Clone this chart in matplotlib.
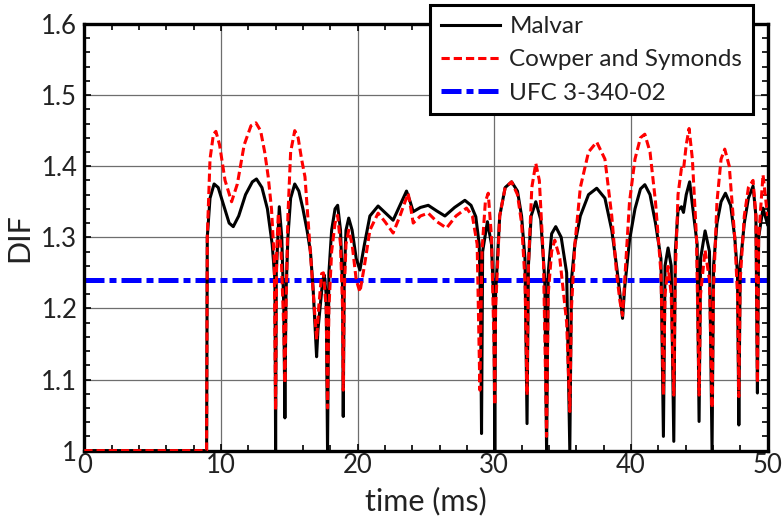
import matplotlib
matplotlib.use("Agg")
import matplotlib.pyplot as plt
from matplotlib.ticker import MultipleLocator

plt.rcParams['font.family'] = ['Lato', 'DejaVu Sans']

# Dynamic increase factor histories (time in ms)
malvar_t = [0, 8.95, 9.0, 9.2, 9.5, 9.8, 10.2, 10.6, 10.9, 11.3, 11.8, 12.3, 12.6, 13.0, 13.4,
            13.75, 13.95, 14.0, 14.05, 14.27, 14.45, 14.6, 14.68, 14.76, 14.9, 15.1, 15.4,
            15.7, 16.0, 16.3, 16.55, 16.75, 16.9, 17.0, 17.1, 17.25, 17.45, 17.56, 17.7,
            17.8, 17.9, 18.1, 18.35, 18.54, 18.75, 18.9, 18.95, 19.02, 19.15, 19.35, 19.6,
            19.9, 20.17, 20.5, 20.9, 21.5, 22.0, 22.6, 23.1, 23.58, 23.85, 24.07, 24.6,
            25.17, 25.8, 26.39, 27.1, 27.85, 28.3, 28.65, 28.9, 29.0, 29.07, 29.15, 29.5,
            29.8, 29.98, 30.04, 30.1, 30.4, 30.8, 31.27, 31.7, 32.0, 32.25, 32.4, 32.5,
            32.7, 33.04, 33.4, 33.7, 33.83, 33.95, 34.2, 34.5, 34.9, 35.3, 35.53, 35.65,
            35.9, 36.3, 36.9, 37.5, 38.1, 38.6, 38.95, 39.2, 39.39, 39.55, 39.9, 40.3,
            40.7, 41.02, 41.4, 41.8, 42.2, 42.38, 42.5, 42.72, 42.95, 43.14, 43.25, 43.45,
            43.7, 43.85, 44.05, 44.3, 44.6, 44.85, 44.99, 45.1, 45.43, 45.75, 45.94, 46.05,
            46.3, 46.6, 46.92, 47.3, 47.6, 47.8, 47.9, 48.0, 48.3, 48.6, 48.94, 49.15,
            49.26, 49.35, 49.67, 50.0]
malvar_dif = [1.0, 1.0, 1.30, 1.355, 1.375, 1.37, 1.345, 1.32, 1.315, 1.33, 1.36, 1.378, 1.382,
              1.37, 1.34, 1.29, 1.24, 1.0, 1.25, 1.343, 1.30, 1.20, 1.046, 1.22, 1.30, 1.355,
              1.375, 1.365, 1.34, 1.31, 1.28, 1.226, 1.17, 1.132, 1.17, 1.20, 1.24, 1.247,
              1.22, 1.0, 1.25, 1.31, 1.34, 1.345, 1.31, 1.23, 1.048, 1.24, 1.31, 1.327, 1.31,
              1.27, 1.254, 1.29, 1.33, 1.344, 1.335, 1.324, 1.345, 1.365, 1.35, 1.336, 1.342,
              1.345, 1.337, 1.330, 1.342, 1.352, 1.345, 1.329, 1.29, 1.20, 1.024, 1.28, 1.322,
              1.29, 1.20, 1.0, 1.22, 1.33, 1.37, 1.378, 1.365, 1.33, 1.27, 1.038, 1.26, 1.33,
              1.350, 1.325, 1.24, 1.0, 1.25, 1.305, 1.315, 1.30, 1.25, 1.0, 1.24, 1.29, 1.33,
              1.36, 1.369, 1.355, 1.31, 1.26, 1.22, 1.186, 1.23, 1.296, 1.34, 1.368, 1.374,
              1.36, 1.32, 1.27, 1.020, 1.26, 1.285, 1.26, 1.013, 1.28, 1.338, 1.343, 1.335,
              1.36, 1.378, 1.33, 1.29, 1.041, 1.27, 1.309, 1.28, 1.0, 1.26, 1.32, 1.35, 1.362,
              1.345, 1.30, 1.25, 1.036, 1.26, 1.32, 1.355, 1.372, 1.33, 1.081, 1.30, 1.341,
              1.318]

cowper_t = [0, 8.95, 9.0, 9.2, 9.45, 9.63, 9.9, 10.3, 10.78, 11.2, 11.7, 12.2, 12.56, 12.9,
            13.2, 13.46, 13.7, 13.9, 14.0, 14.08, 14.2, 14.4, 14.6, 14.68, 14.76, 14.9, 15.1,
            15.4, 15.65, 15.9, 16.15, 16.5, 16.88, 17.0, 17.15, 17.37, 17.5, 17.7, 17.8,
            17.9, 18.1, 18.35, 18.54, 18.75, 18.9, 18.95, 19.02, 19.15, 19.35, 19.6, 19.9,
            20.17, 20.5, 20.9, 21.5, 22.0, 22.6, 23.1, 23.7, 23.9, 24.07, 24.6, 25.17, 25.8,
            26.51, 27.2, 27.97, 28.4, 28.75, 28.95, 29.1, 29.35, 29.56, 29.8, 29.98, 30.04,
            30.1, 30.4, 30.8, 31.27, 31.7, 32.0, 32.25, 32.4, 32.5, 32.75, 33.04, 33.3, 33.6,
            33.83, 33.95, 34.2, 34.43, 34.8, 35.3, 35.53, 35.65, 35.9, 36.3, 36.9, 37.5,
            38.1, 38.6, 38.95, 39.2, 39.39, 39.55, 39.9, 40.3, 40.7, 41.02, 41.4, 41.8, 42.2,
            42.38, 42.5, 42.72, 42.95, 43.14, 43.25, 43.45, 43.7, 43.85, 44.05, 44.26, 44.5,
            44.8, 44.99, 45.1, 45.43, 45.75, 45.94, 46.05, 46.3, 46.6, 46.87, 47.2, 47.6,
            47.8, 47.9, 48.0, 48.3, 48.6, 48.94, 49.15, 49.26, 49.35, 49.67, 50.0]
cowper_dif = [1.0, 1.0, 1.30, 1.41, 1.445, 1.449, 1.43, 1.38, 1.35, 1.375, 1.43, 1.457, 1.461,
              1.45, 1.42, 1.385, 1.34, 1.27, 1.057, 1.28, 1.334, 1.28, 1.17, 1.095, 1.20, 1.33,
              1.42, 1.45, 1.44, 1.41, 1.385, 1.29, 1.188, 1.156, 1.20, 1.249, 1.25, 1.20, 1.06,
              1.20, 1.28, 1.32, 1.331, 1.29, 1.20, 1.085, 1.22, 1.29, 1.31, 1.29, 1.24, 1.223,
              1.26, 1.31, 1.334, 1.322, 1.306, 1.33, 1.362, 1.34, 1.32, 1.33, 1.334, 1.322,
              1.313, 1.33, 1.341, 1.33, 1.29, 1.085, 1.28, 1.35, 1.362, 1.30, 1.15, 1.064,
              1.20, 1.33, 1.37, 1.378, 1.36, 1.32, 1.24, 1.078, 1.26, 1.37, 1.404, 1.38, 1.27,
              1.02, 1.22, 1.28, 1.296, 1.27, 1.18, 1.055, 1.20, 1.29, 1.37, 1.42, 1.434, 1.41,
              1.33, 1.25, 1.21, 1.19, 1.24, 1.35, 1.41, 1.44, 1.445, 1.42, 1.35, 1.25, 1.078,
              1.22, 1.259, 1.22, 1.078, 1.25, 1.36, 1.397, 1.395, 1.43, 1.453, 1.41, 1.30,
              1.078, 1.22, 1.282, 1.24, 1.06, 1.23, 1.35, 1.41, 1.424, 1.40, 1.30, 1.22, 1.076,
              1.24, 1.33, 1.37, 1.38, 1.33, 1.095, 1.30, 1.388, 1.33]

ufc_t = [0, 50]
ufc_dif = [1.24, 1.24]

x_ticks = [0, 10, 20, 30, 40, 50]
y_ticks = [1.0, 1.1, 1.2, 1.3, 1.4, 1.5, 1.6]
y_tick_labels = ['1', '1.1', '1.2', '1.3', '1.4', '1.5', '1.6']

fig = plt.figure(figsize=(7.82, 5.25), dpi=100)
ax = fig.add_axes([0.1078, 0.1417, 0.8737, 0.8126])

ax.plot(ufc_t, ufc_dif, color='#0000ff', lw=3.6, linestyle=(0, (4, 1, 1.4, 1)),
        label='UFC 3-340-02', zorder=2)
ax.plot(malvar_t, malvar_dif, color='black', lw=2.2, label='Malvar', zorder=3)
ax.plot(cowper_t, cowper_dif, color='#ff0000', lw=2.2, linestyle=(0, (2.7, 1.3)),
        label='Cowper and Symonds', zorder=4)

ax.set_xlim(0, 50)
ax.set_ylim(1.0, 1.6)
ax.set_xticks(x_ticks)
ax.set_yticks(y_ticks)
ax.set_yticklabels(y_tick_labels)
ax.xaxis.set_minor_locator(MultipleLocator(2))
ax.yaxis.set_minor_locator(MultipleLocator(0.02))
ax.grid(True, which='major', color='#6e6e6e', lw=0.9)
ax.set_axisbelow(True)

ax.tick_params(which='both', direction='in', top=True, right=True, labelsize=18.5,
               colors='black', labelcolor='#222222')
ax.tick_params(which='major', length=5, width=1.2)
ax.tick_params(which='minor', length=4, width=1.2)
ax.tick_params(axis='x', pad=2)
ax.tick_params(axis='y', pad=5)
for s in ax.spines.values():
    s.set_linewidth(2.4)
    s.set_color('black')

ax.set_xlabel('time (ms)', fontsize=22, labelpad=6, color='#222222')
ax.set_ylabel('DIF', fontsize=22, labelpad=6, color='#222222')

h, l = ax.get_legend_handles_labels()
order = [1, 2, 0]
leg = fig.legend([h[i] for i in order], [l[i] for i in order],
                 loc='upper right', bbox_to_anchor=(0.963, 0.990),
                 fontsize=17.5, frameon=True, fancybox=False, framealpha=1,
                 edgecolor='black', borderpad=0.45, labelspacing=0.5,
                 handlelength=2.4, handletextpad=0.4, borderaxespad=0)
leg.get_frame().set_linewidth(2.2)
for t in leg.get_texts():
    t.set_color('#222222')

fig.savefig('out.png', dpi=100)
